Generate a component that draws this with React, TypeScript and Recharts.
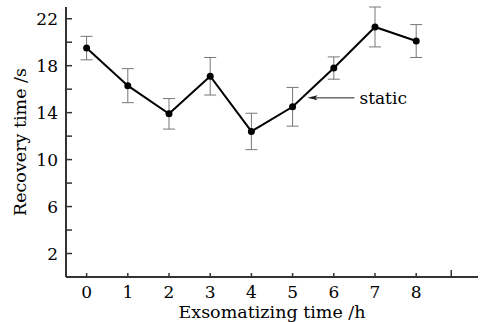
import React from 'react';
import {
  LineChart,
  Line,
  XAxis,
  YAxis,
  ErrorBar,
  ReferenceDot,
} from 'recharts';

const hours = [0, 1, 2, 3, 4, 5, 6, 7, 8];
const recovery = [19.5, 16.3, 13.9, 17.1, 12.4, 14.5, 17.8, 21.3, 20.1];
const errors = [1.0, 1.45, 1.3, 1.6, 1.55, 1.65, 0.95, 1.7, 1.4];

const xTicks = [0, 1, 2, 3, 4, 5, 6, 7, 8, 8.85];
const yTicks = [2, 4, 6, 8, 10, 12, 14, 16, 18, 20, 22];
const yLabels = [2, 6, 10, 14, 18, 22];

const FONT = '"DejaVu Serif", serif';
const AXIS = '#333';

const data = hours.map((h, i) => ({ h, v: recovery[i], e: errors[i] }));

const XTick = ({ x, y, payload }: any) => {
  const v = payload.value;
  const labelled = Number.isInteger(v);
  return (
    <g>
      <line x1={x} x2={x} y1={y} y2={y - (labelled ? 4 : 7)} stroke={AXIS} strokeWidth={1.5} />
      {labelled && (
        <text x={x} y={y + 21} textAnchor="middle" fontSize={17} fontFamily={FONT} fill="#000">
          {v}
        </text>
      )}
    </g>
  );
};

const YTick = ({ x, y, payload }: any) => {
  const v = payload.value;
  return (
    <g>
      <line x1={x} x2={x + 6} y1={y} y2={y} stroke={AXIS} strokeWidth={1.5} />
      {yLabels.includes(v) && (
        <text x={x - 8} y={y + 6} textAnchor="end" fontSize={17} fontFamily={FONT} fill="#000">
          {v}
        </text>
      )}
    </g>
  );
};

const StaticNote = ({ cx, cy }: any) => (
  <g>
    <line x1={cx + 4} x2={cx + 47} y1={cy} y2={cy} stroke="#222" strokeWidth={1} />
    <path d={`M${cx},${cy} L${cx + 10},${cy - 2.5} L${cx + 8},${cy} L${cx + 10},${cy + 2.5} Z`} fill="#222" />
    <text x={cx + 52} y={cy + 6} fontSize={17} fontFamily={FONT} fill="#000">
      static
    </text>
  </g>
);

export default function App() {
  return (
    <div style={{ position: 'absolute', left: 0, top: 0, width: 489, height: 322, background: '#fff' }}>
      <LineChart
        width={489}
        height={322}
        data={data}
        margin={{ top: 7, right: 11, left: 6, bottom: 15 }}
      >
        <XAxis
          dataKey="h"
          type="number"
          domain={[-0.5, 9.5]}
          ticks={xTicks}
          interval={0}
          height={30}
          tickSize={0}
          tickMargin={0}
          tickLine={false}
          axisLine={{ stroke: AXIS, strokeWidth: 2 }}
          tick={<XTick />}
          label={{
            value: 'Exsomatizing time /h',
            position: 'insideBottom',
            offset: -11,
            fontSize: 17.5,
            fontFamily: FONT,
            fill: '#000',
          }}
        />
        <YAxis
          type="number"
          domain={[0, 23]}
          ticks={yTicks}
          interval={0}
          width={60}
          tickSize={0}
          tickMargin={0}
          tickLine={false}
          axisLine={{ stroke: AXIS, strokeWidth: 2 }}
          tick={<YTick />}
          label={{
            value: 'Recovery time /s',
            angle: -90,
            position: 'insideLeft',
            offset: 14,
            fontSize: 17.5,
            fontFamily: FONT,
            fill: '#000',
            style: { textAnchor: 'middle' },
          }}
        />
        <Line
          dataKey="v"
          stroke="#000"
          strokeWidth={2}
          dot={{ r: 3.5, fill: '#000', stroke: '#000', strokeWidth: 0 }}
          isAnimationActive={false}
        >
          <ErrorBar dataKey="e" width={6} stroke="#777" strokeWidth={1} />
        </Line>
        <ReferenceDot x={5.36} y={15.26} shape={<StaticNote />} />
      </LineChart>
    </div>
  );
}
